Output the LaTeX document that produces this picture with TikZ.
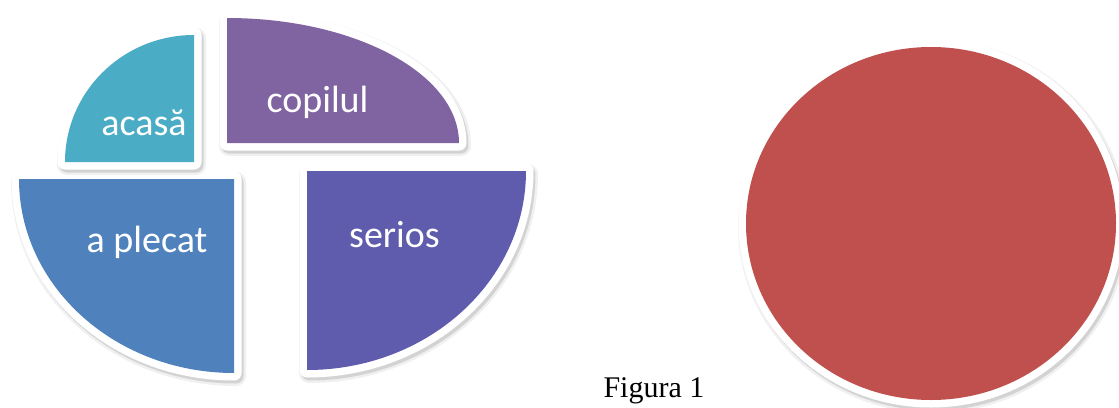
\documentclass[tikz,border=0pt]{standalone}
\usepackage{fontspec}
\setmainfont{Liberation Serif}
\newfontfamily\calibri{Carlito}
\usetikzlibrary{positioning}
\definecolor{acasacol}{RGB}{75,172,198}
\definecolor{copilcol}{RGB}{128,100,162}
\definecolor{plecatcol}{RGB}{79,129,189}
\definecolor{seriocol}{RGB}{95,91,173}
\definecolor{redcol}{RGB}{192,80,77}
\tikzset{
  rim/.style={draw=white, line width=15pt, line join=round},
  halo/.style={draw=black, line width=20pt, line join=round, draw opacity=0.06, shift={(2,-3)}},
  halotwo/.style={draw=black, line width=15pt, line join=round, draw opacity=0.12, shift={(2,-3)}},
  word/.style={text=white, anchor=base, font=\calibri\fontsize{38}{45}\selectfont},
}

\begin{document}
\begin{tikzpicture}[x=1pt,y=1pt]
\useasboundingbox (0,0) rectangle (1119,-407);
%
% four quarter pieces: corner / start angle / end angle / radii / colour
\foreach \cx/\cy/\sa/\ea/\rx/\ry/\col in {
  234/-179/180/270/215/194/plecatcol,
  307/-171/0/-90/219/199/seriocol,
  194/-162/180/90/129/127/acasacol,
  227/-143/90/0/232/125/copilcol}{
  \draw[halo] (\cx,\cy) -- ++({\sa}:{\rx} and {\ry}) arc[start angle=\sa, end angle=\ea, x radius=\rx, y radius=\ry] -- cycle;
  \draw[halotwo] (\cx,\cy) -- ++({\sa}:{\rx} and {\ry}) arc[start angle=\sa, end angle=\ea, x radius=\rx, y radius=\ry] -- cycle;
  \draw[rim] (\cx,\cy) -- ++({\sa}:{\rx} and {\ry}) arc[start angle=\sa, end angle=\ea, x radius=\rx, y radius=\ry] -- cycle;
  \fill[\col] (\cx,\cy) -- ++({\sa}:{\rx} and {\ry}) arc[start angle=\sa, end angle=\ea, x radius=\rx, y radius=\ry] -- cycle;
}
%
\node[word] (acasa) at (144,-135) {acasă};
\node[word] (copilul) at (317.5,-112) {copilul};
\node[word] (plecat) at (147,-252) {a plecat};
\node[word] (serios) at (394.5,-247) {serios};
%
% the red disc
\draw[halo] (931,-223.5) ellipse [x radius=185, y radius=176.5];
\draw[halotwo] (931,-223.5) ellipse [x radius=185, y radius=176.5];
\draw[rim] (931,-223.5) ellipse [x radius=185, y radius=176.5];
\fill[redcol] (931,-223.5) ellipse [x radius=185, y radius=176.5];
%
\node[anchor=base west, font=\fontsize{30}{36}\selectfont] (figura) at (600,-397) {Figura 1};
\end{tikzpicture}
\end{document}
